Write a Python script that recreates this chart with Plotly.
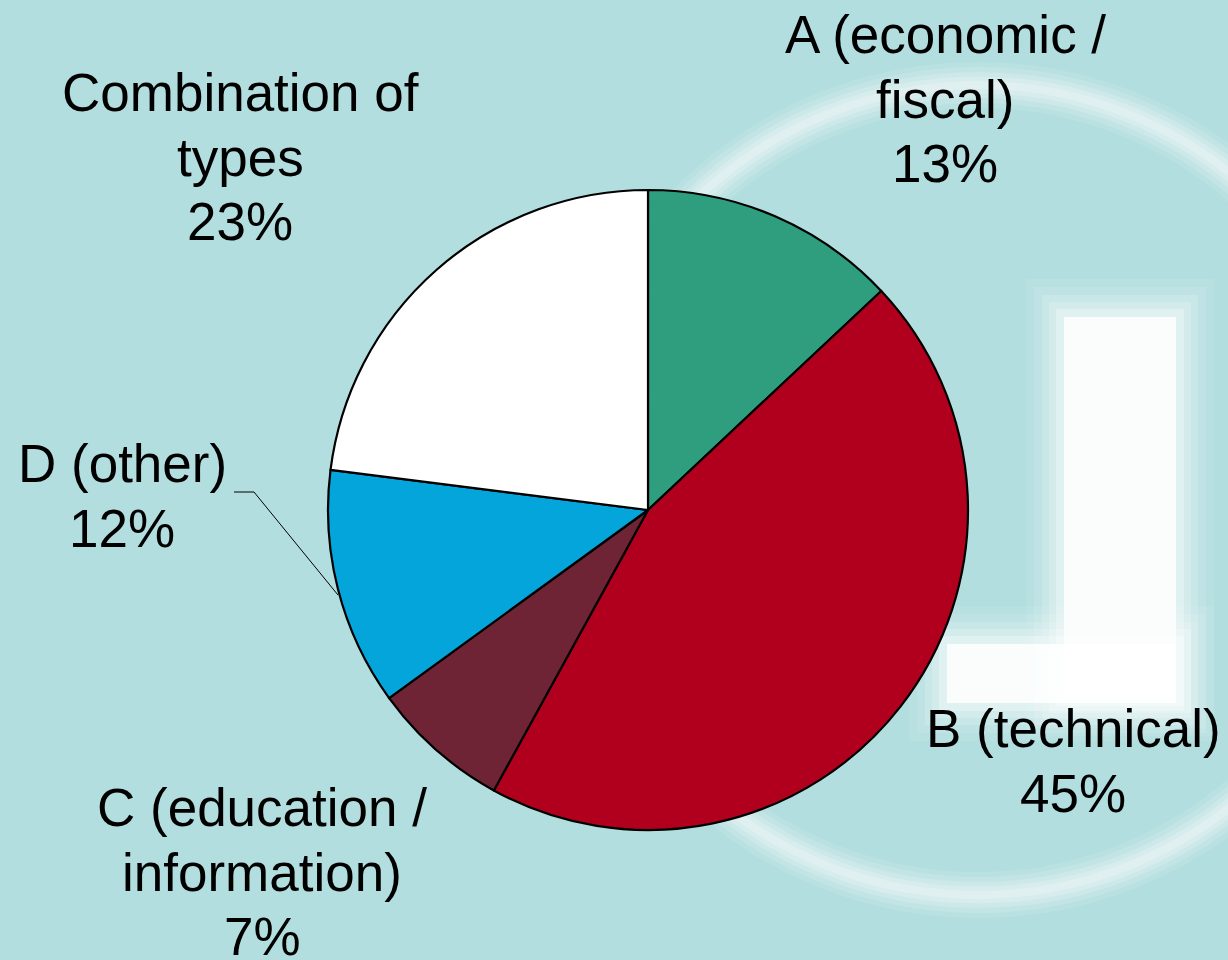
import plotly.graph_objects as go

# ---- data ----
categories = ["A (economic / fiscal)", "B (technical)", "C (education / information)",
              "D (other)", "Combination of types"]
label_lines = [["A (economic /", "fiscal)"], ["B (technical)"], ["C (education /", "information)"],
               ["D (other)"], ["Combination of", "types"]]
values = [13, 45, 7, 12, 23]
colors = ["#2E9E7E", "#B0001E", "#6E2434", "#03A5DA", "#FFFFFF"]

# ---- layout constants (pixels) ----
W, H = 1228, 960
BG = "#B2DEDF"
cx, cy, R = 648, 510, 320
FONT = "Liberation Sans, Arial, sans-serif"
FS = 53
LINE = 64.5
# first-line baseline and horizontal centre of each label block
label_anchor = [(945, 53), (1073, 747), (262, 826), (122, 482), (240, 111)]

def px(x):
    return x / W

def py(y):
    return 1 - y / H

fig = go.Figure(go.Pie(
    labels=categories, values=values, sort=False, direction="clockwise", rotation=0,
    marker=dict(colors=colors, line=dict(color="black", width=2.2)),
    textinfo="none", hoverinfo="label+percent", showlegend=False,
    domain=dict(x=[px(cx - R), px(cx + R)], y=[py(cy + R), py(cy - R)]),
))

total = sum(values)
annotations = []
for lines, v, (ax, ay) in zip(label_lines, values, label_anchor):
    all_lines = lines + [f"{v / total * 100:.0f}%"]
    for i, t in enumerate(all_lines):
        base = ay + i * LINE
        annotations.append(dict(
            x=px(ax), y=py(base - 0.3465 * FS), xref="paper", yref="paper",
            text=t, showarrow=False, xanchor="center", yanchor="middle",
            font=dict(family=FONT, size=FS, color="black"),
        ))

shapes = []
# decorative background: soft white ring
ring = (978, 490, 405)
for w, op in [(46, 0.10), (36, 0.12), (26, 0.16), (17, 0.2), (8, 0.25)]:
    shapes.append(dict(type="circle", xref="paper", yref="paper", layer="below",
                       x0=px(ring[0] - ring[2]), x1=px(ring[0] + ring[2]),
                       y0=py(ring[1] + ring[2]), y1=py(ring[1] - ring[2]),
                       line=dict(color="white", width=w), fillcolor="rgba(0,0,0,0)",
                       opacity=op))
# decorative background: soft white bar and foot
for (x0, y0, x1, y1) in [(1062, 315, 1178, 700), (945, 642, 1178, 705)]:
    for e, op in [(36, 0.08), (28, 0.1), (20, 0.14), (13, 0.2), (6, 0.3), (-2, 0.85)]:
        shapes.append(dict(type="rect", xref="paper", yref="paper", layer="below",
                           x0=px(x0 - e), x1=px(x1 + e), y0=py(y1 + e), y1=py(y0 - e),
                           line=dict(width=0), fillcolor="white", opacity=op))
# leader line for D label
shapes.append(dict(type="path", xref="paper", yref="paper", layer="above",
                   path=f"M {px(234)},{py(492)} L {px(254)},{py(492)} L {px(338)},{py(595)}",
                   line=dict(color="black", width=1)))

fig.update_layout(
    width=W, height=H, margin=dict(l=0, r=0, t=0, b=0),
    paper_bgcolor=BG, plot_bgcolor=BG,
    annotations=annotations, shapes=shapes,
)

fig.write_html("out.html", config={"displayModeBar": False},
               post_script="document.body.style.margin='0';document.body.style.overflow='hidden';")
